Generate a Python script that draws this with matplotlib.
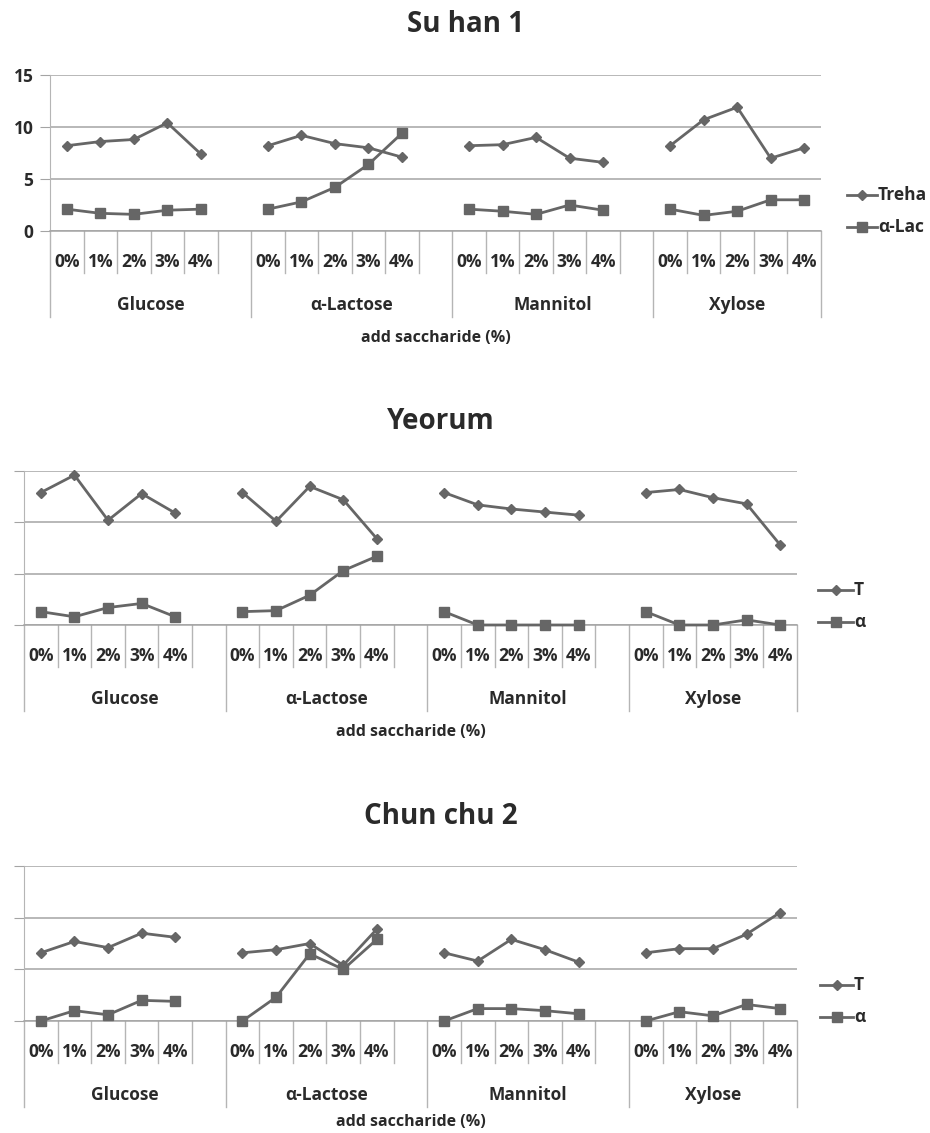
import matplotlib
matplotlib.use("Agg")
import matplotlib.pyplot as plt
from matplotlib.lines import Line2D
import numpy as np

W, H = 930, 1133
plt.rcParams["font.family"] = ["Open Sans", "DejaVu Sans"]

GROUPS = ["Glucose", "α-Lactose", "Mannitol", "Xylose"]
LEVELS = ["0%", "1%", "2%", "3%", "4%"]
# legend labels as far as the source crop shows them
LEGEND_FULL = ["Treha", "α-Lac"]
LEGEND_CUT = ["T", "α"]
YTICKS = [0, 5, 10, 15]

# one row per saccharide group, one value per added %
SUHAN_TREHA = [[8.2, 8.6, 8.8, 10.4, 7.4],
               [8.2, 9.2, 8.4, 8.0, 7.1],
               [8.2, 8.3, 9.0, 7.0, 6.6],
               [8.2, 10.7, 11.9, 7.0, 8.0]]
SUHAN_LAC = [[2.1, 1.7, 1.6, 2.0, 2.1],
             [2.1, 2.8, 4.2, 6.4, 9.4],
             [2.1, 1.9, 1.6, 2.5, 2.0],
             [2.1, 1.5, 1.9, 3.0, 3.0]]

YEORUM_TREHA = [[12.9, 14.6, 10.2, 12.8, 10.9],
                [12.9, 10.1, 13.5, 12.2, 8.4],
                [12.9, 11.7, 11.3, 11.0, 10.7],
                [12.9, 13.2, 12.4, 11.8, 7.8]]
YEORUM_LAC = [[1.3, 0.8, 1.7, 2.1, 0.8],
              [1.3, 1.4, 2.9, 5.3, 6.7],
              [1.3, 0.0, 0.0, 0.0, 0.0],
              [1.3, 0.0, 0.0, 0.5, 0.0]]

CHUN_TREHA = [[6.6, 7.7, 7.1, 8.5, 8.1],
              [6.6, 6.9, 7.5, 5.4, 8.9],
              [6.6, 5.8, 7.9, 6.9, 5.7],
              [6.6, 7.0, 7.0, 8.4, 10.5]]
CHUN_LAC = [[0.0, 1.0, 0.6, 2.0, 1.9],
            [0.0, 2.3, 6.5, 5.0, 7.9],
            [0.0, 1.2, 1.2, 1.0, 0.7],
            [0.0, 0.9, 0.5, 1.6, 1.2]]

C_LINE = "#666666"
C_GRID = "#a4a4a4"
C_SEP = "#b5b5b5"
C_TEXT = "#2a2a2a"
MS_D, MS_S, LW = 5.5, 7.5, 2.0


def panel(fig, box, title, treha, lac, show_ylabels, leg, xlab_off=107):
    left, right, top, bottom = box
    hpx = bottom - top
    ax = fig.add_axes([left / W, 1 - bottom / H, (right - left) / W, hpx / H])
    nslots = 6 * len(GROUPS) - 1
    ax.set_xlim(0, nslots)
    ax.set_ylim(0, 15)

    for g in range(len(GROUPS)):
        x = g * 6 + np.arange(len(LEVELS)) + 0.5
        ax.plot(x, treha[g], marker="D", ms=MS_D, color=C_LINE, lw=LW,
                clip_on=False, zorder=4)
        ax.plot(x, lac[g], marker="s", ms=MS_S, color=C_LINE, lw=LW,
                clip_on=False, zorder=4)

    # y axis + gridlines
    ax.set_yticks(YTICKS)
    ax.yaxis.grid(True, color=C_GRID, lw=1.1)
    ax.set_axisbelow(True)
    ax.tick_params(axis="y", length=7, color=C_GRID, pad=5,
                   labelleft=show_ylabels, labelsize=12.5, labelcolor=C_TEXT)
    for t in ax.get_yticklabels():
        t.set_fontweight("bold")
    ax.set_xticks([])
    for s in ("top", "right"):
        ax.spines[s].set_visible(False)
    ax.spines["left"].set_color(C_SEP)
    ax.spines["bottom"].set_color(C_GRID)
    ax.spines["bottom"].set_linewidth(1.1)

    # multi-level category axis
    tr = ax.get_xaxis_transform()
    short, long_ = 42 / hpx, 86 / hpx
    for g, name in enumerate(GROUPS):
        g0 = g * 6
        g1 = min(g0 + 6, nslots)
        ax.plot([g0, g0], [0, -long_], transform=tr, color=C_SEP, lw=1, clip_on=False)
        for k, lab in enumerate(LEVELS):
            if k > 0:
                ax.plot([g0 + k, g0 + k], [0, -short], transform=tr, color=C_SEP,
                        lw=1, clip_on=False)
            ax.text(g0 + k + 0.5, -31 / hpx, lab, transform=tr, ha="center",
                    va="center", fontsize=12.5, fontweight="bold", color=C_TEXT)
        if g1 - g0 == 6:
            ax.plot([g0 + 5, g0 + 5], [0, -short], transform=tr, color=C_SEP,
                    lw=1, clip_on=False)
        ax.text((g0 + g1) / 2, -74 / hpx, name, transform=tr, ha="center",
                va="center", fontsize=12.5, fontweight="bold", color=C_TEXT)
    ax.plot([nslots, nslots], [0, -long_], transform=tr, color=C_SEP, lw=1,
            clip_on=False)
    ax.text(0.5, -xlab_off / hpx, "add saccharide (%)", transform=ax.transAxes,
            ha="center", va="center", fontsize=11.5, fontweight="bold", color=C_TEXT)

    ax.text(0.5 + 30 / (right - left), 1 + 50 / hpx, title, transform=ax.transAxes,
            ha="center", va="center", fontsize=20, fontweight="bold", color=C_TEXT)

    # legend at the right edge of the source crop
    lx0, lx1, ly, labels = leg
    for i, (name, mk, ms) in enumerate(zip(labels, ["D", "s"], [MS_D, MS_S])):
        y = 1 - (ly + i * 32) / H
        fig.add_artist(Line2D([lx0 / W, (lx0 + lx1) / 2 / W, lx1 / W], [y, y, y],
                              transform=fig.transFigure, color=C_LINE, lw=LW,
                              marker=mk, ms=ms, markevery=[1]))
        fig.text((lx1 + 1) / W, y, name, ha="left", va="center",
                 fontsize=12.5, fontweight="bold", color=C_TEXT)
    return ax


fig = plt.figure(figsize=(W / 100, H / 100), dpi=100)
fig.patch.set_facecolor("white")

panel(fig, (50, 821, 75, 231), "Su han 1", SUHAN_TREHA, SUHAN_LAC, True,
      (847, 877, 195, LEGEND_FULL))
panel(fig, (24, 797, 471, 625), "Yeorum", YEORUM_TREHA, YEORUM_LAC, False,
      (818, 853, 590, LEGEND_CUT))
panel(fig, (24, 797, 866, 1021), "Chun chu 2", CHUN_TREHA, CHUN_LAC, False,
      (820, 853, 985, LEGEND_CUT), xlab_off=101)

fig.savefig("out.png", dpi=100, facecolor="white")
